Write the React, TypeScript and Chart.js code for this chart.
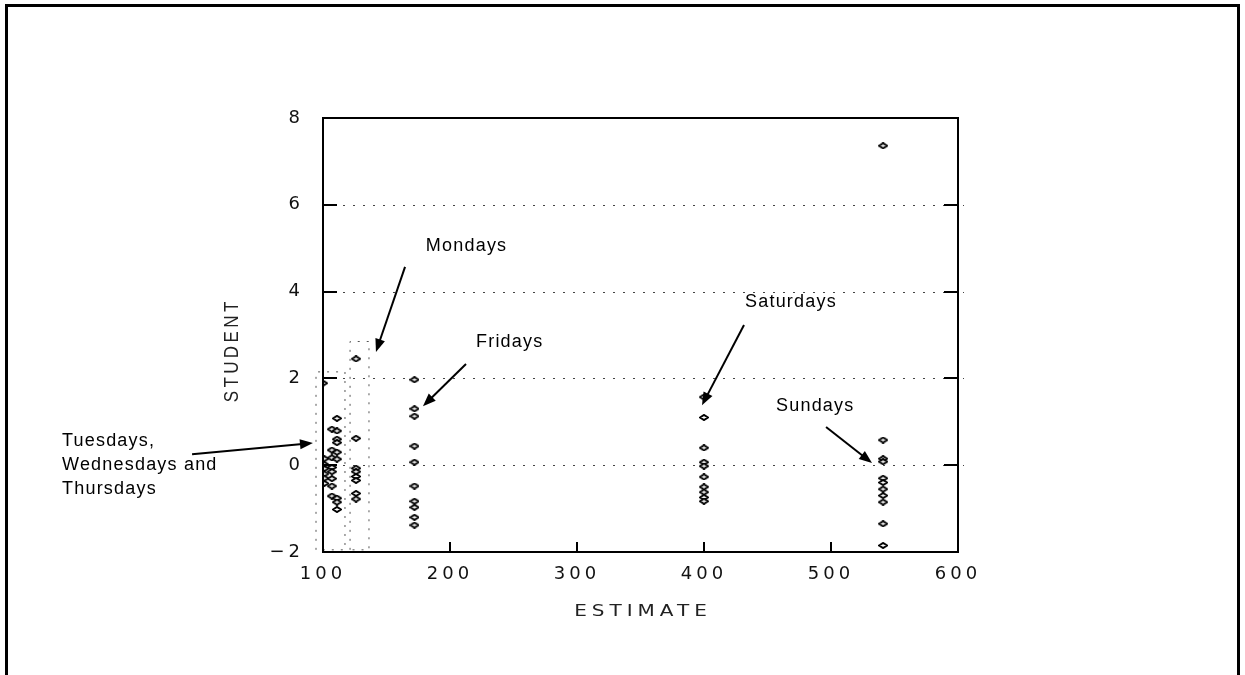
import React, { useEffect, useRef } from 'react';
import { Chart, registerables } from 'chart.js';

Chart.register(...registerables);

// ---- data (ESTIMATE on x, STUDENT residual on y) ----
const midweekEstimate = [100, 101, 101, 101, 101, 101, 101, 107, 107, 107, 107, 107, 107, 107, 107, 111, 111, 111, 111, 111, 111, 111, 111, 111];
const midweekStudent = [1.89, 0.15, 0.02, -0.08, -0.2, -0.3, -0.42, 0.83, 0.35, 0.17, -0.05, -0.15, -0.31, -0.48, -0.71, 1.08, 0.79, 0.6, 0.52, 0.3, 0.14, -0.76, -0.85, -1.02];
const mondayEstimate = [126, 126, 126, 126, 126, 126, 126, 126];
const mondayStudent = [2.45, 0.62, -0.07, -0.15, -0.26, -0.35, -0.65, -0.78];
const fridayEstimate = [172, 172, 172, 172, 172, 172, 172, 172, 172, 172];
const fridayStudent = [1.97, 1.3, 1.13, 0.44, 0.07, -0.48, -0.83, -0.97, -1.2, -1.38];
const saturdayEstimate = [400, 400, 400, 400, 400, 400, 400, 400, 400, 400];
const saturdayStudent = [1.57, 1.1, 0.4, 0.07, -0.02, -0.27, -0.5, -0.62, -0.74, -0.83];
const sundayEstimate = [541, 541, 541, 541, 541, 541, 541, 541, 541, 541, 541];
const sundayStudent = [7.36, 0.58, 0.15, 0.08, -0.3, -0.4, -0.55, -0.7, -0.85, -1.35, -1.85];

// dotted group boxes (corners in data units)
const midweekBoxX = [94.5, 94.5, 117.3, 117.3, 94.5];
const midweekBoxY = [-1.95, 2.15, 2.15, -1.95, -1.95];
const mondayBoxX = [121.3, 121.3, 136.2, 136.2, 121.3];
const mondayBoxY = [-1.95, 2.85, 2.85, -1.95, -1.95];

const xTickValues = [100, 200, 300, 400, 500, 600];
const yTickValues = [-2, 0, 2, 4, 6, 8];
const gridValues = [0, 2, 4, 6];

const xTitle = 'ESTIMATE';
const yTitle = 'STUDENT';

// annotations: label lines, text anchor, arrow from / to (data units)
const noteLabels = [['Mondays'], ['Fridays'], ['Saturdays'], ['Sundays'], ['Tuesdays,', 'Wednesdays and', 'Thursdays']];
const noteTextX = [181, 220.5, 432.3, 456.7, -105.5];
const noteTextY = [5.05, 2.84, 3.76, 1.36, 0.55];
const noteFromX = [164.6, 212.6, 431.5, 496.1, -3.1];
const noteFromY = [4.57, 2.33, 3.23, 0.88, 0.25];
const noteToX = [141.7, 178.7, 398.4, 532.3, 92.1];
const noteToY = [2.61, 1.36, 1.38, 0.05, 0.51];

const zip = (xs: number[], ys: number[]) => xs.map((x, i) => ({ x, y: ys[i] }));

function makeDiamond(): HTMLCanvasElement {
  const c = document.createElement('canvas');
  c.width = 10;
  c.height = 7;
  const g = c.getContext('2d')!;
  g.beginPath();
  g.moveTo(1, 3.5);
  g.lineTo(5, 0.9);
  g.lineTo(9, 3.5);
  g.lineTo(5, 6.1);
  g.closePath();
  g.fillStyle = '#ffffff';
  g.fill();
  g.lineWidth = 1.9;
  g.strokeStyle = '#000000';
  g.stroke();
  return c;
}

function drawArrow(ctx: CanvasRenderingContext2D, x1: number, y1: number, x2: number, y2: number) {
  const a = Math.atan2(y2 - y1, x2 - x1);
  const L = 13, W = 5;
  ctx.beginPath();
  ctx.moveTo(x1, y1);
  ctx.lineTo(x2 - L * 0.6 * Math.cos(a), y2 - L * 0.6 * Math.sin(a));
  ctx.stroke();
  ctx.beginPath();
  ctx.moveTo(x2, y2);
  ctx.lineTo(x2 - L * Math.cos(a) + W * Math.sin(a), y2 - L * Math.sin(a) - W * Math.cos(a));
  ctx.lineTo(x2 - L * Math.cos(a) - W * Math.sin(a), y2 - L * Math.sin(a) + W * Math.cos(a));
  ctx.closePath();
  ctx.fill();
}

const decorPlugin = {
  id: 'decor',
  beforeDraw(chart: any) {
    const ctx = chart.ctx as CanvasRenderingContext2D;
    const { width, height } = chart;
    ctx.save();
    ctx.fillStyle = '#ffffff';
    ctx.fillRect(0, 0, width, height);
    // outer frame
    ctx.strokeStyle = '#000';
    ctx.lineWidth = 3;
    ctx.beginPath();
    ctx.moveTo(6.5, height);
    ctx.lineTo(6.5, 5.5);
    ctx.lineTo(1238.5, 5.5);
    ctx.lineTo(1238.5, height);
    ctx.stroke();
    ctx.restore();
    (ctx as any).letterSpacing = '4px';
  },
  beforeDatasetsDraw(chart: any) {
    const ctx = chart.ctx as CanvasRenderingContext2D;
    (ctx as any).letterSpacing = '0px';
    const { left, right } = chart.chartArea;
    const ys = chart.scales.y;
    ctx.save();
    ctx.strokeStyle = '#444';
    ctx.lineWidth = 1;
    ctx.setLineDash([2, 8]);
    gridValues.forEach((v) => {
      const py = Math.round(ys.getPixelForValue(v)) + 0.5;
      ctx.beginPath();
      ctx.moveTo(left, py);
      ctx.lineTo(right + 6, py);
      ctx.stroke();
    });
    ctx.restore();
  },
  afterDraw(chart: any) {
    const ctx = chart.ctx as CanvasRenderingContext2D;
    const { left, right, top, bottom } = chart.chartArea;
    const xs = chart.scales.x;
    const ys = chart.scales.y;
    ctx.save();
    (ctx as any).letterSpacing = '0px';
    // plot box
    ctx.strokeStyle = '#000';
    ctx.lineWidth = 2;
    ctx.strokeRect(left, top, right - left, bottom - top);
    // inside tick marks
    yTickValues.slice(1, -1).forEach((v) => {
      const py = Math.round(ys.getPixelForValue(v));
      ctx.beginPath();
      ctx.moveTo(left, py);
      ctx.lineTo(left + 14, py);
      ctx.moveTo(right - 14, py);
      ctx.lineTo(right, py);
      ctx.stroke();
    });
    xTickValues.slice(1, -1).forEach((v) => {
      const px = Math.round(xs.getPixelForValue(v));
      ctx.beginPath();
      ctx.moveTo(px, bottom);
      ctx.lineTo(px, bottom - 10);
      ctx.stroke();
    });
    // axis titles
    ctx.fillStyle = '#222';
    ctx.textAlign = 'center';
    ctx.textBaseline = 'middle';
    ctx.save();
    ctx.translate((left + right) / 2, 612);
    ctx.scale(1.25, 1);
    ctx.font = '16px "DejaVu Sans"';
    (ctx as any).letterSpacing = '4px';
    ctx.fillText(xTitle, 2, 0);
    ctx.restore();
    ctx.save();
    ctx.translate(232, 352);
    ctx.rotate(-Math.PI / 2);
    ctx.scale(0.85, 1);
    ctx.font = '20px "Liberation Sans"';
    (ctx as any).letterSpacing = '4px';
    ctx.fillText(yTitle, 2, 0);
    ctx.restore();
    // annotations
    ctx.fillStyle = '#000';
    ctx.strokeStyle = '#000';
    ctx.lineWidth = 2;
    ctx.font = '18px "Liberation Sans"';
    (ctx as any).letterSpacing = '1.2px';
    ctx.textAlign = 'left';
    noteLabels.forEach((lines, i) => {
      const tx = xs.getPixelForValue(noteTextX[i]);
      const ty = ys.getPixelForValue(noteTextY[i]);
      lines.forEach((ln, j) => ctx.fillText(ln, tx, ty + j * 24));
      drawArrow(
        ctx,
        xs.getPixelForValue(noteFromX[i]),
        ys.getPixelForValue(noteFromY[i]),
        xs.getPixelForValue(noteToX[i]),
        ys.getPixelForValue(noteToY[i])
      );
    });
    ctx.restore();
  },
};

export default function App() {
  const ref = useRef<HTMLCanvasElement | null>(null);
  useEffect(() => {
    if (!ref.current) return;
    const diamond = makeDiamond();
    const pointDs = (data: { x: number; y: number }[]) => ({
      data,
      pointStyle: diamond,
      pointRadius: 4,
      showLine: false,
      borderColor: '#000',
      backgroundColor: '#fff',
    });
    const boxDs = (data: { x: number; y: number }[]) => ({
      data,
      showLine: true,
      pointRadius: 0,
      borderColor: '#555',
      borderWidth: 1,
      borderDash: [2, 7],
      fill: false,
      clip: false as any,
    });
    const chart = new Chart(ref.current, {
      type: 'scatter',
      data: {
        datasets: [
          boxDs(zip(midweekBoxX, midweekBoxY)),
          boxDs(zip(mondayBoxX, mondayBoxY)),
          pointDs(zip(midweekEstimate, midweekStudent)),
          pointDs(zip(mondayEstimate, mondayStudent)),
          pointDs(zip(fridayEstimate, fridayStudent)),
          pointDs(zip(saturdayEstimate, saturdayStudent)),
          pointDs(zip(sundayEstimate, sundayStudent)),
        ] as any,
      },
      options: {
        responsive: false,
        animation: false,
        devicePixelRatio: 1,
        layout: { padding: { top: 118, right: 287, bottom: 0, left: 0 } },
        plugins: { legend: { display: false }, tooltip: { enabled: false } },
        scales: {
          x: {
            type: 'linear',
            min: 100,
            max: 600,
            afterBuildTicks: (s: any) => {
              s.ticks = xTickValues.map((v) => ({ value: v }));
            },
            afterFit: (s: any) => {
              s.height = 123;
            },
            grid: { display: false, drawTicks: false },
            border: { display: false },
            ticks: {
              padding: 12,
              color: '#111',
              font: { family: 'DejaVu Sans', size: 18 },
              maxRotation: 0,
            },
          },
          y: {
            type: 'linear',
            min: -2,
            max: 8,
            afterBuildTicks: (s: any) => {
              s.ticks = yTickValues.map((v) => ({ value: v }));
            },
            afterFit: (s: any) => {
              s.width = 323;
            },
            grid: { display: false, drawTicks: false },
            border: { display: false },
            ticks: {
              padding: 19,
              color: '#111',
              font: { family: 'DejaVu Sans', size: 18 },
              callback: (v: any) => (Number(v) < 0 ? '\u2212' + Math.abs(Number(v)) : String(v)),
            },
          },
        },
      },
      plugins: [decorPlugin],
    });
    return () => chart.destroy();
  }, []);
  return (
    <div style={{ position: 'fixed', left: 0, top: 0, width: 1245, height: 675, background: '#fff' }}>
      <canvas ref={ref} width={1245} height={675} />
    </div>
  );
}
